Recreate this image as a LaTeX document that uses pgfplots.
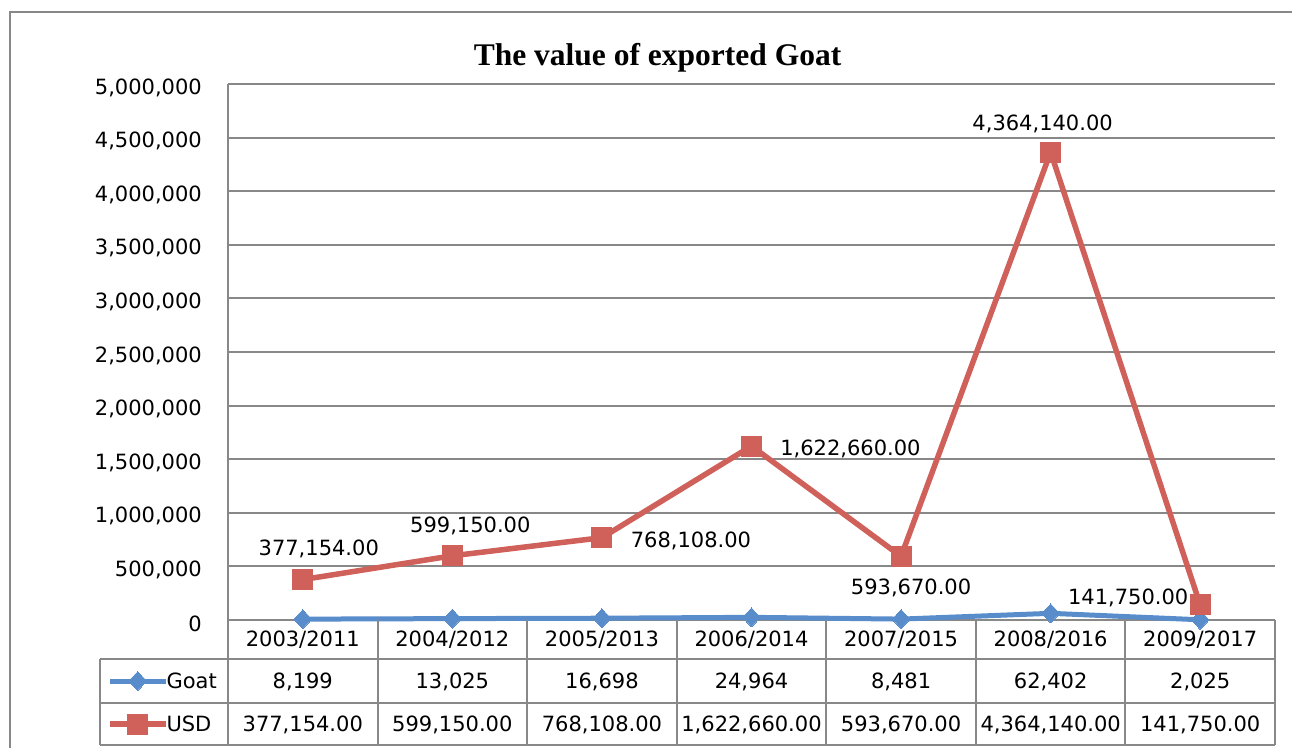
\documentclass[border=0pt]{standalone}
\usepackage{pgfplots}
\pgfplotsset{compat=1.18}
\usepackage{fontspec}
\setmainfont{DejaVu Sans}
\newfontfamily\titlefont{Liberation Serif}
\definecolor{goatblue}{RGB}{88,140,202}
\definecolor{usdred}{RGB}{207,96,90}
\definecolor{gridgray}{RGB}{136,136,136}
\begin{document}
\begin{tikzpicture}[font=\fontsize{21}{25}\selectfont]
\useasboundingbox (0pt,0pt) rectangle (1292pt,-747pt);
\draw[gridgray, line width=2pt] (9.5pt,-760pt) -- (9.5pt,-11.5pt) -- (1300pt,-11.5pt);
\node[font=\titlefont\bfseries\fontsize{31.5}{36}\selectfont] at (657.5pt,-58pt) {The value of exported Goat};
\begin{axis}[
  at={(228pt,-620pt)}, anchor=south west,
  scale only axis, width=1047pt, height=536pt,
  xmin=0, xmax=7, ymin=0, ymax=5000000,
  axis line style={draw=none},
  xtick=\empty,
  ytick distance=500000,
  ymajorgrids, grid style={gridgray, line width=2pt},
  major tick length=0pt,
  scaled y ticks=false,
  yticklabel style={/pgf/number format/fixed, /pgf/number format/precision=0, /pgf/number format/1000 sep={,}, /pgf/number format/assume math mode=true},
  yticklabel style={font=\fontsize{21}{25}\selectfont, text=black, inner sep=0pt, anchor=east, xshift=-26pt, yshift=-3.5pt},
  clip=false,
  legend cell align=left,
  legend style={at={(axis description cs:-0.11557,-0.07369)}, anchor=north west, draw=none, fill=none,
    inner sep=0pt, outer sep=0pt, row sep=0pt, column sep=-2pt,
    nodes={inner sep=0pt, text height=29pt, text depth=14pt, font=\fontsize{21}{25}\selectfont}},
  legend image code/.code={\draw[mark repeat=2, mark phase=2, #1] plot coordinates {(0pt,0pt)(28pt,0pt)(56pt,0pt)};},
]
\addplot[goatblue, line width=5pt, mark=diamond*, mark size=9.5pt, mark options={xscale=1.25, solid, line width=0pt, fill=goatblue}]
  coordinates {(0.5,8199) (1.5,13025) (2.5,16698) (3.5,24964) (4.5,8481) (5.5,62402) (6.5,2025)};
\addlegendentry{Goat}
\addplot[usdred, line width=5.5pt, mark=square*, mark size=10pt, mark options={solid, line width=0pt, fill=usdred}]
  coordinates {(0.5,377154) (1.5,599150) (2.5,768108) (3.5,1622660) (4.5,593670) (5.5,4364140) (6.5,141750)};
\addlegendentry{USD}
\node at (axis cs:0.5,377154) [xshift=16pt, yshift=31pt] {377,154.00};
\node at (axis cs:1.5,599150) [xshift=18pt, yshift=30pt] {599,150.00};
\node at (axis cs:2.5,768108) [xshift=89pt, yshift=-3pt] {768,108.00};
\node at (axis cs:3.5,1622660) [xshift=99pt, yshift=-3pt] {1,622,660.00};
\node at (axis cs:4.5,593670) [xshift=10pt, yshift=-32pt] {593,670.00};
\node at (axis cs:5.5,4364140) [xshift=-8pt, yshift=28pt] {4,364,140.00};
\node at (axis cs:6.5,141750) [xshift=-72pt, yshift=7pt] {141,750.00};
\end{axis}
% data table
\begin{scope}[gridgray, line width=2pt]
\draw (228pt,-84pt) -- (228pt,-745pt);
\draw (100pt,-659pt) -- (1275pt,-659pt);
\draw (100pt,-703pt) -- (1275pt,-703pt);
\draw (100pt,-745pt) -- (1275pt,-745pt);
\draw (100pt,-659pt) -- (100pt,-745pt);
\foreach \k in {1,...,7} {\pgfmathsetmacro{\xx}{228+149.571*\k}\draw (\xx pt,-620pt) -- (\xx pt,-745pt);}
\end{scope}
\node at (302.79pt,-640pt) {2003/2011};
\node at (452.36pt,-640pt) {2004/2012};
\node at (601.93pt,-640pt) {2005/2013};
\node at (751.50pt,-640pt) {2006/2014};
\node at (901.07pt,-640pt) {2007/2015};
\node at (1050.64pt,-640pt) {2008/2016};
\node at (1200.21pt,-640pt) {2009/2017};
\node at (302.79pt,-682pt) {8,199};
\node at (452.36pt,-682pt) {13,025};
\node at (601.93pt,-682pt) {16,698};
\node at (751.50pt,-682pt) {24,964};
\node at (901.07pt,-682pt) {8,481};
\node at (1050.64pt,-682pt) {62,402};
\node at (1200.21pt,-682pt) {2,025};
\node at (302.79pt,-725pt) {377,154.00};
\node at (452.36pt,-725pt) {599,150.00};
\node at (601.93pt,-725pt) {768,108.00};
\node at (751.50pt,-725pt) {1,622,660.00};
\node at (901.07pt,-725pt) {593,670.00};
\node at (1050.64pt,-725pt) {4,364,140.00};
\node at (1200.21pt,-725pt) {141,750.00};
\end{tikzpicture}
\end{document}
